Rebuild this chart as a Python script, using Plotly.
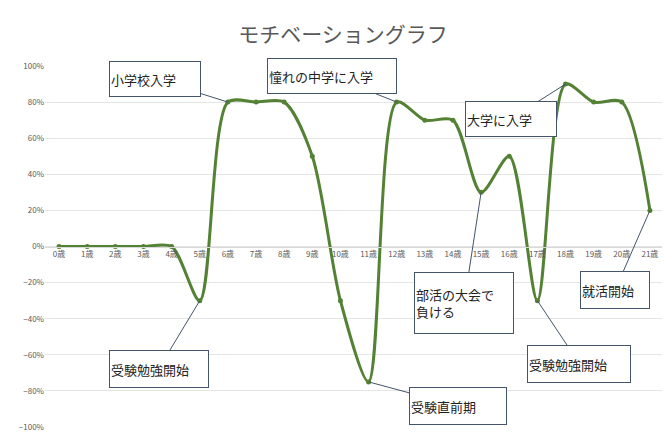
import plotly.graph_objects as go

ages = [f"{i}歳" for i in range(22)]
motivation = [0, 0, 0, 0, 0, -0.30, 0.80, 0.80, 0.80, 0.50, -0.30, -0.75,
              0.80, 0.70, 0.70, 0.30, 0.50, -0.30, 0.90, 0.80, 0.80, 0.20]

# (label, age index, ax, ay, width, height)
events = [
    ("小学校入学", 6, -73, -23, 88, 32),
    ("憧れの中学に入学", 12, -65, -26, 126, 32),
    ("大学に入学", 18, -55, 35, 88, 32),
    ("部活の大会で<br>負ける", 15, -17, 111, 96, 58),
    ("就活開始", 21, -35, 80, 66, 34),
    ("受験勉強開始", 5, -41, 68, 96, 34),
    ("受験直前期", 11, 89, 24, 94, 34),
    ("受験勉強開始", 17, 42, 63, 100, 34),
]

fig = go.Figure()
fig.add_trace(go.Scatter(
    x=ages, y=motivation, mode="lines+markers",
    line=dict(color="#548235", width=3, shape="spline", smoothing=0.8),
    marker=dict(size=5, color="#548235"),
))

for text, i, ax, ay, w, h in events:
    fig.add_annotation(
        x=ages[i], y=motivation[i], text=text, ax=ax, ay=ay,
        showarrow=True, arrowhead=0, arrowwidth=1, arrowcolor="#44546a",
        bgcolor="white", bordercolor="#44546a", borderwidth=1,
        width=w, height=h, align="left", standoff=0,
        font=dict(size=13, color="#222222"),
    )

fig.update_layout(
    title=dict(text="モチベーショングラフ", x=0.5, y=0.955, xanchor="center",
               font=dict(size=21, color="#595959")),
    width=670, height=432, showlegend=False,
    margin=dict(l=37, r=14, t=58, b=13),
    paper_bgcolor="white", plot_bgcolor="white",
    font=dict(family="Noto Sans CJK JP", color="#595959"),
    xaxis=dict(range=[-0.5, 21.5], anchor="free", position=0.5,
               automargin=False,
               showgrid=False, showline=True, linecolor="#d9d9d9",
               tickfont=dict(size=8), ticks=""),
    yaxis=dict(range=[-1, 1], dtick=0.2, tickformat=".0%", automargin=False,
               gridcolor="#e5e5e5", zeroline=False, tickfont=dict(size=8)),
)

fig.write_html("out.html")
